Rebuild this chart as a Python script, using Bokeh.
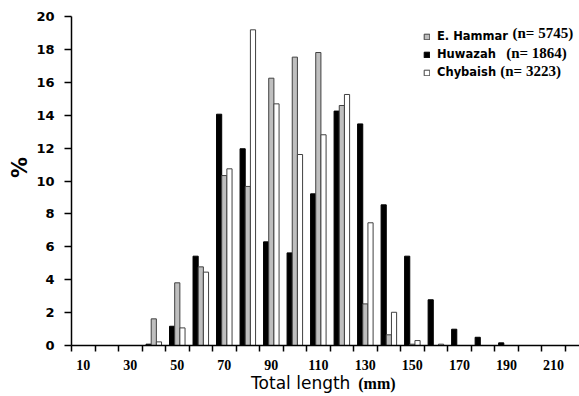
import math
from bokeh.plotting import figure
from bokeh.layouts import column, row
from bokeh.models import (Range1d, FixedTicker, Legend, LegendItem, Label,
                          ColumnDataSource)
from bokeh.transform import dodge
from bokeh.embed import file_html
from bokeh.resources import INLINE

# Total length classes (mm), lower value of each 10 mm class
lengths = [10, 20, 30, 40, 50, 60, 70, 80, 90, 100, 110, 120, 130, 140, 150,
           160, 170, 180, 190, 200, 210]
# Percentage frequency per class
hammar = [0, 0, 0, 1.62, 3.81, 4.78, 10.33, 9.67, 16.25, 17.53, 17.81, 14.59,
          2.53, 0.65, 0.08, 0, 0, 0, 0, 0, 0]
huwazah = [0, 0, 0, 0.08, 1.17, 5.43, 14.06, 11.96, 6.30, 5.63, 9.22, 14.25,
           13.47, 8.55, 5.43, 2.78, 0.99, 0.50, 0.16, 0, 0]
chybaish = [0, 0, 0, 0.22, 1.07, 4.46, 10.74, 19.19, 14.69, 11.61, 12.81,
            15.26, 7.46, 2.02, 0.30, 0.08, 0, 0, 0, 0, 0]

x_tick_labels = [10, 30, 50, 70, 90, 110, 130, 150, 170, 190, 210]
y_ticks = [0, 2, 4, 6, 8, 10, 12, 14, 16, 18, 20]

series_names = ["E. Hammar", "Huwazah", "Chybaish"]
series_n = ["(n= 5745)", "(n= 1864)", "(n= 3223)"]

src = ColumnDataSource(dict(x=lengths, hammar=hammar, huwazah=huwazah,
                            chybaish=chybaish))

LEFT_W = 33
xr = Range1d(5, 221.1)
p = figure(width=579 - LEFT_W, height=372, x_range=xr,
           y_range=Range1d(0, 20), output_backend="svg", toolbar_location=None,
           min_border_left=70 - LEFT_W, min_border_right=0, min_border_top=16,
           min_border_bottom=27)

bw = 2.2
r_hu = p.vbar(x=dodge("x", -bw, range=p.x_range), top="huwazah", width=bw,
              source=src, fill_color="black", line_color="black", line_width=1)
r_ha = p.vbar(x=dodge("x", 0, range=p.x_range), top="hammar", width=bw,
              source=src, fill_color="#bfbfbf", line_color="#404040", line_width=1)
r_ch = p.vbar(x=dodge("x", bw, range=p.x_range), top="chybaish", width=bw,
              source=src, fill_color="white", line_color="#404040", line_width=1)

p.xgrid.visible = False
p.ygrid.visible = False
p.outline_line_color = None
p.background_fill_color = "white"

xa = p.xaxis[0]
xa.ticker = FixedTicker(ticks=x_tick_labels,
                        minor_ticks=[c - 5 for c in lengths] + [lengths[-1] + 5])
xa.major_tick_out = 0
xa.major_tick_in = 0
xa.minor_tick_out = 6
xa.minor_tick_in = 0
xa.minor_tick_line_color = "black"
xa.minor_tick_line_width = 1.5
xa.axis_line_color = "black"
xa.axis_line_width = 1.5
xa.major_label_standoff = 8
xa.major_label_text_font = "Liberation Serif"
xa.major_label_text_font_style = "bold"
xa.major_label_text_font_size = "14px"
xa.major_label_text_color = "black"

ya = p.yaxis[0]
ya.ticker = FixedTicker(ticks=y_ticks)
ya.major_tick_out = 7
ya.major_tick_in = 0
ya.minor_tick_out = 0
ya.minor_tick_in = 0
ya.major_tick_line_color = "black"
ya.major_tick_line_width = 1.5
ya.axis_line_color = "black"
ya.axis_line_width = 1.5
ya.major_label_standoff = 10
ya.major_label_text_font = "DejaVu Sans"
ya.major_label_text_font_style = "bold"
ya.major_label_text_font_size = "13px"
ya.major_label_text_color = "black"

legend = Legend(items=[LegendItem(label=series_names[0], renderers=[r_ha]),
                       LegendItem(label=series_names[1], renderers=[r_hu]),
                       LegendItem(label=series_names[2], renderers=[r_ch])],
                location=(352, 264), padding=0, margin=0, spacing=0,
                border_line_color=None, background_fill_alpha=0,
                glyph_width=7, glyph_height=7, label_standoff=7,
                label_height=18, label_text_font="DejaVu Sans",
                label_text_font_style="bold", label_text_font_size="11.5px",
                label_text_color="black")
p.add_layout(legend)

for txt, lx, ly in zip(series_n, [192.6, 189.9, 187.4], [18.97, 17.81, 16.69]):
    p.add_layout(Label(x=lx, y=ly, text=txt, text_font="Liberation Serif",
                       text_font_style="bold", text_font_size="15px",
                       text_color="black",
                       text_baseline="middle", text_align="left"))

# x-axis title strip (mixed fonts)
p2 = figure(width=579 - LEFT_W, height=24, x_range=xr, y_range=Range1d(0, 1),
            output_backend="svg", toolbar_location=None,
            x_axis_location=None, y_axis_location=None,
            min_border_left=70 - LEFT_W, min_border_right=0, min_border_top=0,
            min_border_bottom=0)
p2.xgrid.visible = False
p2.ygrid.visible = False
p2.outline_line_color = None
p2.add_layout(Label(x=81.4, y=0.56, text="Total length", text_font="DejaVu Sans",
                    text_font_size="17px", text_color="black",
                    text_baseline="middle", text_align="left"))
p2.add_layout(Label(x=127.0, y=0.56, text="(mm)", text_font="Liberation Serif",
                    text_font_style="bold", text_font_size="16px",
                    text_color="black",
                    text_baseline="middle", text_align="left"))

# y-axis title strip ("%")
pl = figure(width=LEFT_W, height=396, x_range=Range1d(0, 1),
            y_range=Range1d(0, 1), output_backend="svg", toolbar_location=None,
            x_axis_location=None, y_axis_location=None,
            min_border_left=0, min_border_right=0, min_border_top=0,
            min_border_bottom=0)
pl.xgrid.visible = False
pl.ygrid.visible = False
pl.outline_line_color = None
pl.add_layout(Label(x=19.5 / LEFT_W, y=1 - 167 / 396, text="%",
                    text_font="DejaVu Sans", text_font_style="bold",
                    text_font_size="21px", text_color="black",
                    text_baseline="middle", text_align="center",
                    angle=math.pi / 2))

layout = row(pl, column(p, p2, spacing=0), spacing=0)
open("out.html", "w").write(file_html(layout, INLINE))
